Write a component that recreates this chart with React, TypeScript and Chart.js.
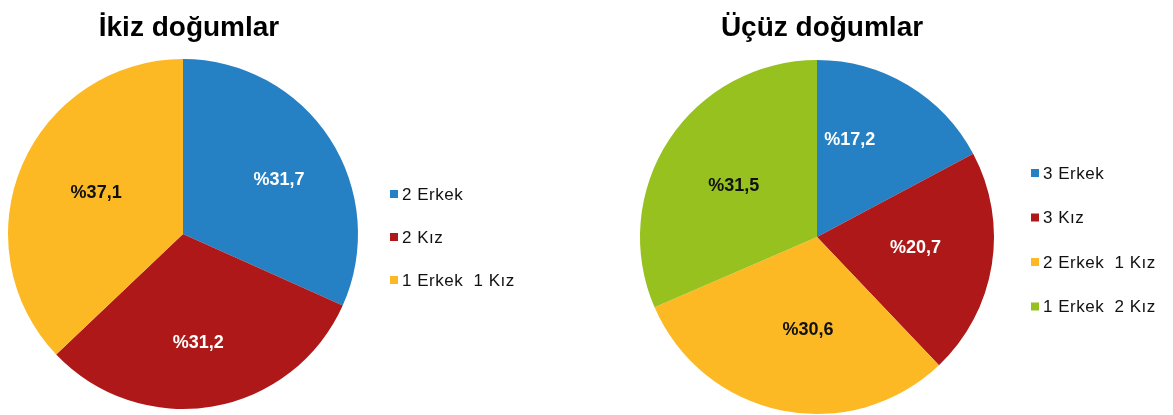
import React, { useEffect, useRef } from "react";
import { Chart, registerables } from "chart.js";

Chart.register(...registerables);

const twinTitle = "İkiz doğumlar";
const twinLabels = ["2 Erkek", "2 Kız", "1 Erkek  1 Kız"];
const twinValues = [31.7, 31.2, 37.1];
const twinColors = ["#2680C4", "#AE1818", "#FCB924"];
const twinLabelColors = ["#FFFFFF", "#FFFFFF", "#111111"];

const tripTitle = "Üçüz doğumlar";
const tripLabels = ["3 Erkek", "3 Kız", "2 Erkek  1 Kız", "1 Erkek  2 Kız"];
const tripValues = [17.2, 20.7, 30.6, 31.5];
const tripColors = ["#2680C4", "#AE1818", "#FCB924", "#96C11E"];
const tripLabelColors = ["#FFFFFF", "#FFFFFF", "#111111", "#111111"];

const fmt = (v: number) => "%" + v.toFixed(1).replace(".", ",");

const decorPlugin = {
  id: "decor",
  afterDatasetsDraw(chart: any, _args: any, opts: any) {
    const ctx = chart.ctx;
    const meta = chart.getDatasetMeta(0);
    const ds = chart.data.datasets[0];
    ctx.save();
    // data labels
    ctx.font = "bold 18px 'Liberation Sans', Arial, sans-serif";
    ctx.textAlign = "center";
    ctx.textBaseline = "middle";
    meta.data.forEach((arc: any, i: number) => {
      const p = arc.getProps(["x", "y", "startAngle", "endAngle", "outerRadius"], true);
      const mid = (p.startAngle + p.endAngle) / 2 + ((opts.angleAdjust && opts.angleAdjust[i]) || 0);
      const r = p.outerRadius * opts.labelFrac[i];
      ctx.fillStyle = opts.labelColors[i];
      ctx.fillText(fmt(ds.data[i]), p.x + Math.cos(mid) * r, p.y + Math.sin(mid) * r);
    });
    // title
    ctx.fillStyle = "#000000";
    ctx.font = "bold 28px 'Liberation Sans', Arial, sans-serif";
    ctx.textBaseline = "alphabetic";
    ctx.fillText(opts.title, opts.titleX, opts.titleY);
    // legend
    ctx.font = "17px 'Liberation Sans', Arial, sans-serif";
    (ctx as any).letterSpacing = "0.5px";
    ctx.textAlign = "left";
    ctx.textBaseline = "middle";
    chart.data.labels.forEach((lab: string, i: number) => {
      const y = opts.legendY + i * opts.legendGap;
      ctx.fillStyle = ds.backgroundColor[i];
      ctx.fillRect(opts.legendX, y - 4, 8, 8);
      ctx.fillStyle = "#111111";
      ctx.fillText(lab, opts.legendX + 12, y + 1);
    });
    ctx.restore();
  },
};

function PieChart(props: any) {
  const ref = useRef<HTMLCanvasElement>(null);
  useEffect(() => {
    const chart = new Chart(ref.current as HTMLCanvasElement, {
      type: "pie",
      data: {
        labels: props.labels,
        datasets: [
          {
            data: props.values,
            backgroundColor: props.colors,
            borderWidth: 0,
          },
        ],
      },
      options: {
        animation: false,
        responsive: false,
        layout: { padding: props.padding },
        plugins: {
          legend: { display: false },
          tooltip: { enabled: false },
          decor: props.decor,
        } as any,
      },
      plugins: [decorPlugin],
    });
    return () => chart.destroy();
  }, []);
  return (
    <canvas
      ref={ref}
      width={props.width}
      height={415}
      style={{ position: "absolute", left: props.left, top: 0, width: props.width, height: 415 }}
    />
  );
}

export default function App() {
  return (
    <div style={{ position: "fixed", left: 0, top: 0, width: 1173, height: 415, background: "#fff" }}>
      <PieChart
        left={0}
        width={586}
        labels={twinLabels}
        values={twinValues}
        colors={twinColors}
        padding={{ left: 8, top: 59, right: 228, bottom: 6 }}
        decor={{
          title: twinTitle,
          titleX: 189,
          titleY: 36,
          labelColors: twinLabelColors,
          labelFrac: [0.63, 0.63, 0.55],
          angleAdjust: [0.06, 0.03, 0.04],
          legendX: 390,
          legendY: 194,
          legendGap: 43,
        }}
      />
      <PieChart
        left={586}
        width={587}
        labels={tripLabels}
        values={tripValues}
        colors={tripColors}
        padding={{ left: 54, top: 60, right: 179, bottom: 1 }}
        decor={{
          title: tripTitle,
          titleX: 236,
          titleY: 36,
          labelColors: tripLabelColors,
          labelFrac: [0.58, 0.56, 0.53, 0.55],
          angleAdjust: [-0.216, -0.05, -0.105, -0.035],
          legendX: 445,
          legendY: 173,
          legendGap: 44.5,
        }}
      />
    </div>
  );
}
